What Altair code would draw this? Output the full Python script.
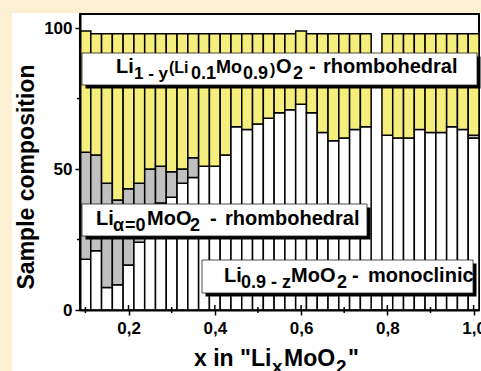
import altair as alt
import pandas as pd

# ---------------- data ----------------
x_li = [0.100, 0.125, 0.150, 0.175, 0.200, 0.225, 0.250, 0.275, 0.300, 0.325,
        0.350, 0.375, 0.400, 0.425, 0.450, 0.475, 0.500, 0.525, 0.550, 0.575,
        0.600, 0.625, 0.650, 0.675, 0.700, 0.725, 0.750, 0.800, 0.825, 0.850,
        0.875, 0.900, 0.925, 0.950, 0.975, 1.000]
# monoclinic Li(0.9-z)MoO2 share (white)
mono = [18, 21, 8, 9, 16, 24, 30, 38, 40, 45,
        47, 51, 51, 55, 65, 64, 66, 68, 70, 71,
        73, 70, 63, 60, 61, 64, 65, 62, 61, 61,
        64, 63, 63, 65, 64, 61]
# rhombohedral Li(alpha=0)MoO2 share (grey)
rhombo_a = [38, 34, 37, 30, 27, 21, 20, 13, 9, 5,
            7, 0, 0, 0, 0, 0, 0, 0, 0, 0,
            0, 0, 0, 0, 0, 0, 0, 0, 0, 0,
            0, 0, 0, 0, 0, 1]
# rhombohedral Li(1-y)(Li0.1Mo0.9)O2 share (yellow)
rhombo_y = [43, 43, 53, 59, 55, 53, 48, 47, 49, 48,
            44, 47, 47, 43, 33, 34, 32, 30, 28, 27,
            26, 28, 35, 38, 37, 34, 33, 36, 37, 37,
            34, 35, 35, 33, 34, 36]

x_major = [0.2, 0.4, 0.6, 0.8, 1.0]
x_minor = [0.1, 0.3, 0.5, 0.7, 0.9]
y_major = [0, 50, 100]
y_minor = [25, 75]

phases = ["mono", "alpha", "rhy"]
phase_colors = ["#ffffff", "#c0c0c0", "#f6ee7c"]
BAR_W = 0.025

rows = []
for i, xv in enumerate(x_li):
    base = 0
    for ph, val in zip(phases, [mono[i], rhombo_a[i], rhombo_y[i]]):
        if val > 0:
            rows.append({"x0": xv - BAR_W / 2, "x1": xv + BAR_W / 2,
                         "y0": base, "y1": base + val, "phase": ph})
        base += val
bars_df = pd.DataFrame(rows)

# ---------------- layout ----------------
W, H = 399, 296
PL, PT = 80, 14
FONT = "Liberation Sans"

xscale = alt.Scale(domain=[0.0875, 1.0125], nice=False, zero=False)
yscale = alt.Scale(domain=[0, 105], nice=False)

bars = alt.Chart(bars_df).mark_rect(stroke="black", strokeWidth=1.5).encode(
    x=alt.X("x0:Q", scale=xscale,
            axis=alt.Axis(values=x_major, tickSize=5, tickWidth=1.5, tickColor="black",
                          domainColor="black", domainWidth=2,
                          labelExpr="replace(format(datum.value, '.1f'), '.', ',')",
                          labelFontSize=17, labelFontWeight="bold", labelFont=FONT,
                          labelColor="black", labelPadding=5, grid=False, title=None,
                          zindex=1)),
    x2="x1:Q",
    y=alt.Y("y0:Q", scale=yscale,
            axis=alt.Axis(values=y_major, tickSize=5, tickWidth=1.5, tickColor="black",
                          domainColor="black", domainWidth=2,
                          labelFontSize=17, labelFontWeight="bold", labelFont=FONT,
                          labelColor="black", labelPadding=3, grid=False, title=None,
                          zindex=1)),
    y2="y1:Q",
    color=alt.Color("phase:N", scale=alt.Scale(domain=phases, range=phase_colors), legend=None),
)

one = pd.DataFrame({"a": [0]})
layers = []

# cream strips outside the white panel
layers.append(alt.Chart(one).mark_rect(color="#fcf0d3").encode(
    x=alt.value(-PL), x2=alt.value(12 - PL), y=alt.value(-PT), y2=alt.value(371 - PT)))
layers.append(alt.Chart(one).mark_rect(color="#fcf0d3").encode(
    x=alt.value(-PL), x2=alt.value(481 - PL), y=alt.value(-PT), y2=alt.value(13 - PT)))

layers.append(bars)

# inner parts of ticks
layers.append(alt.Chart(pd.DataFrame({"t": x_major})).mark_rule(color="black", strokeWidth=1.5).encode(
    x=alt.X("t:Q", scale=xscale), y=alt.value(H), y2=alt.value(H - 5)))
layers.append(alt.Chart(pd.DataFrame({"t": x_minor})).mark_rule(color="black", strokeWidth=1.5).encode(
    x=alt.X("t:Q", scale=xscale), y=alt.value(H + 3), y2=alt.value(H - 3)))
layers.append(alt.Chart(pd.DataFrame({"t": y_minor})).mark_rule(color="black", strokeWidth=1.5).encode(
    y=alt.Y("t:Q", scale=yscale), x=alt.value(-3), x2=alt.value(0)))

# label boxes (absolute pixel: left, top, right, bottom)
boxes = [(82, 53, 477, 85), (82, 204, 367, 236), (202, 260, 473, 293)]
SH = 3.5
for (l, t, r, b) in boxes:
    layers.append(alt.Chart(one).mark_rect(color="black").encode(
        x=alt.value(l + SH - PL), x2=alt.value(r + SH - PL),
        y=alt.value(t + SH - PT), y2=alt.value(b + SH - PT)))
    layers.append(alt.Chart(one).mark_rect(color="white", stroke="#222222", strokeWidth=0.8).encode(
        x=alt.value(l - PL), x2=alt.value(r - PL),
        y=alt.value(t - PT), y2=alt.value(b - PT)))

# text segments: (text, left px, baseline px, size)
segments = [
    ("Li", 116, 73, 20), ("1 - y", 134, 79, 17), ("(Li", 169, 73, 16), ("0.1", 191, 79, 18),
    ("Mo", 216, 73, 18), ("0.9", 243, 79, 18), (")", 270, 75, 16), ("O", 276, 73, 20),
    ("2", 293, 79, 18), ("-", 309, 73, 20), ("rhombohedral", 323, 73, 20),
    ("Li", 96, 225, 20), ("\u03b1", 113, 231, 18), ("=0", 125, 231, 18), ("MoO", 147, 225, 20),
    ("2", 190, 231, 18), ("-", 210, 225, 20), ("rhombohedral", 225, 225, 20),
    ("Li", 224, 282, 20), ("0.9 - z", 241, 288, 18), ("MoO", 291, 282, 20), ("2", 337, 288, 18),
    ("-", 352, 282, 20), ("monoclinic", 368, 282, 20),
    ('x in "Li', 194, 366, 23), ("x", 272, 373, 19), ("MoO", 284, 366, 23), ("2", 336, 373, 19),
    ('"', 348, 366, 23),
]
for (txt, px, py, sz) in segments:
    layers.append(alt.Chart(pd.DataFrame({"t": [txt]})).mark_text(
        align="left", baseline="alphabetic", font=FONT, fontWeight="bold",
        fontSize=sz, color="black").encode(
        text="t:N", x=alt.value(px - PL), y=alt.value(py - PT)))

layers.append(alt.Chart(pd.DataFrame({"t": ["Sample composition"]})).mark_text(
    align="center", baseline="alphabetic", font=FONT, fontWeight="bold",
    fontSize=23, color="black", angle=270).encode(
    text="t:N", x=alt.value(34 - PL), y=alt.value(177 - PT)))

chart = alt.layer(*layers).properties(
    width=W, height=H,
    autosize=alt.AutoSizeParams(type="none"),
    padding={"left": PL, "top": PT, "right": 481 - PL - W, "bottom": 371 - PT - H},
    background="white",
).configure_view(stroke="black", strokeWidth=2)

chart.save("out.html", embed_options={"renderer": "svg", "actions": False})
